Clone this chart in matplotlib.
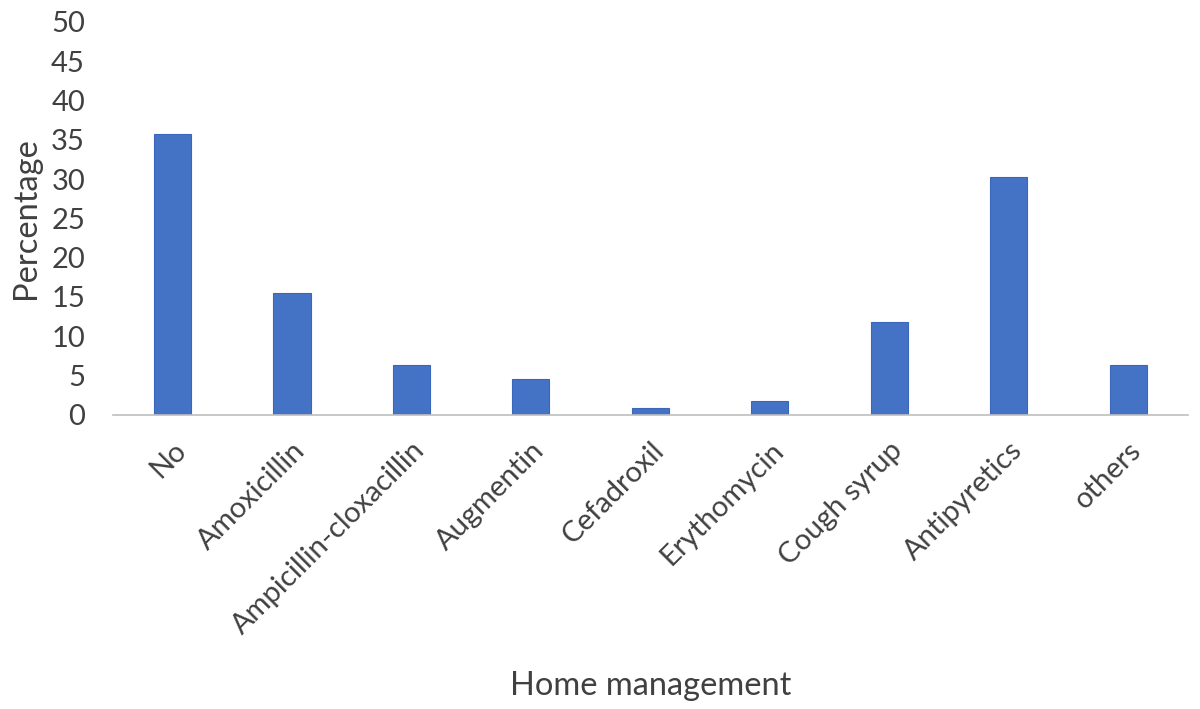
import numpy as np
import matplotlib.pyplot as plt

#Data
categories = ['No', 'Amoxicillin', 'Ampicillin-cloxacillin', 'Augmentin', 'Cefadroxil',
              'Erythomycin', 'Cough syrup', 'Antipyretics', 'others']
percent = [35.8, 15.5, 6.3, 4.5, 0.9, 1.7, 11.8, 30.3, 6.3]
yticks = [0, 5, 10, 15, 20, 25, 30, 35, 40, 45, 50]

plt.rcParams['font.family'] = ['Lato', 'DejaVu Sans']
txt = '#404040'

fig = plt.figure(figsize=(12, 7.09), dpi=100)
ax = fig.add_axes([0.094, 0.415, 0.896, 0.554])

x = np.arange(len(categories))
ax.bar(x, percent, width=0.31, color='#4472C4', edgecolor='#3A66BE', linewidth=0.8)

ax.set_xlim(-0.5, len(categories) - 0.5)
ax.set_ylim(0, 50)
ax.set_yticks(yticks)
ax.set_yticklabels([str(t) for t in yticks], fontsize=21, color=txt)
ax.set_xticks(x)
ax.set_xticklabels(categories, rotation=45, ha='right', rotation_mode='anchor',
                   fontsize=21, color=txt)
ax.tick_params(axis='both', length=0)
ax.tick_params(axis='y', pad=20)
ax.tick_params(axis='x', pad=16)

for s in ['top', 'right', 'left']:
    ax.spines[s].set_visible(False)
ax.spines['bottom'].set_color('#BFBFBF')
ax.spines['bottom'].set_linewidth(1.2)

ax.set_ylabel('Percentage', fontsize=23.5, color=txt, labelpad=7)
fig.text(0.542, 0.032, 'Home management', fontsize=23.5, color=txt, ha='center', va='center')

fig.savefig('out.png', dpi=100)
